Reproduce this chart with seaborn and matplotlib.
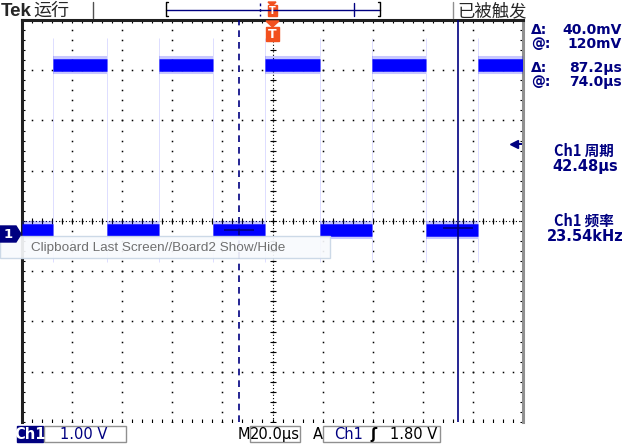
import numpy as np
import pandas as pd
import matplotlib
matplotlib.use("Agg")
import matplotlib.pyplot as plt
import seaborn as sns
from matplotlib.patches import Rectangle, Polygon

# scope settings
time_per_div = 20.0      # us / div
volts_per_div = 1.00     # V / div
trig_level = 1.80        # V
ch1_offset = 0.26        # screen centre is this many volts above ground

# Ch1 square wave: edge times (us, trigger at 0) and levels (V)
rise_us = [-87.6, -45.2, -2.8, 39.6, 82.0]
fall_us = [-66.0, -23.6, 18.8, 61.2, 103.6]
high_v = 3.36
low_v = 0.08

# cursors: dashed / solid
cursor_t = [-13.2, 74.0]
cursor_v = [0.08, 0.12]

cursor_keys = ["Δ:", "@:", "Δ:", "@:"]
cursor_vals = ["40.0mV", "120mV", "87.2µs", "74.0µs"]
meas_labels = ["Ch1 周期", "Ch1 频率"]
meas_values = ["42.48µs", "23.54kHz"]

NAVY = "#000080"
BLUE = "#0000ff"
ORANGE = "#f2501e"
CJK = ["Noto Sans CJK SC", "DejaVu Sans"]

sns.set_style("white")
plt.rcParams["font.family"] = ["DejaVu Sans", "Noto Sans CJK SC"]

W, H = 624, 444
fig = plt.figure(figsize=(W / 100, H / 100), dpi=100)
fig.patch.set_facecolor("white")

gl, gr, gt, gb = 22, 523, 20, 422
ax = fig.add_axes([gl / W, 1 - gb / H, (gr - gl) / W, (gb - gt) / H])
xmin, xmax = -5 * time_per_div, 5 * time_per_div
ymin, ymax = ch1_offset - 4 * volts_per_div, ch1_offset + 4 * volts_per_div
ax.set_xlim(xmin, xmax)
ax.set_ylim(ymin, ymax)
ax.set_xticks([])
ax.set_yticks([])
ax.set_facecolor("white")
for s in ["left", "top"]:
    ax.spines[s].set_color("#202020")
    ax.spines[s].set_linewidth(2.2)
ax.spines["right"].set_color("#909090")
ax.spines["right"].set_linewidth(2.2)
ax.spines["bottom"].set_visible(False)

# graticule
xc = np.arange(xmin, xmax + 0.01, time_per_div)
yc = np.arange(ymin, ymax + 0.01, volts_per_div)
fx = np.arange(xmin, xmax + 0.01, time_per_div / 5)
fy = np.arange(ymin, ymax + 0.01, volts_per_div / 5)
X1, Y1 = np.meshgrid(xc[1:-1], fy)
X2, Y2 = np.meshgrid(fx, yc[1:])
ax.plot(np.r_[X1.ravel(), X2.ravel()], np.r_[Y1.ravel(), Y2.ravel()], "s",
        ms=1.1, mew=0, color="black", zorder=1)
ax.plot([xmin, xmax], [ch1_offset, ch1_offset], ls=(0, (1, 2)), lw=0.8, color="black", zorder=1)
ax.plot([0, 0], [ymin, ymax], ls=(0, (1, 2)), lw=0.8, color="black", zorder=1)
ax.plot(fx, np.full_like(fx, ch1_offset), "|", ms=5, mew=0.8, color="black", zorder=1)
ax.plot(np.zeros_like(fy), fy, "_", ms=5, mew=0.8, color="black", zorder=1)
for yy in [ymin, ymax]:
    ax.plot(fx, np.full_like(fx, yy), "|", ms=5, mew=0.8, color="black", zorder=1)
for xx in [xmin, xmax]:
    ax.plot(np.full_like(fy, xx), fy, "_", ms=5, mew=0.8, color="black", zorder=1)

# trace
rows = []
seg = 0
for a, b in zip([xmin] + fall_us[:-1], rise_us):
    rows += [(a, low_v, seg), (b, low_v, seg)]
    seg += 1
for a, b in zip(rise_us, fall_us):
    rows += [(a, high_v, seg), (min(b, xmax), high_v, seg)]
    seg += 1
df = pd.DataFrame(rows, columns=["t", "v", "seg"])

ax.vlines(rise_us + fall_us, -0.55, 3.9, color="#d8d8ff", lw=0.6, zorder=2)
sns.lineplot(data=df, x="t", y="v", units="seg", estimator=None, color=BLUE,
             lw=13, alpha=0.22, solid_capstyle="butt", legend=False, ax=ax, zorder=3)
sns.lineplot(data=df, x="t", y="v", units="seg", estimator=None, color=BLUE,
             lw=9, solid_capstyle="butt", legend=False, ax=ax, zorder=4)
ax.set_xlabel("")
ax.set_ylabel("")

# cursors
ax.axvline(cursor_t[0], color=NAVY, lw=1.2, ls=(0, (4, 3)), zorder=5)
ax.axvline(cursor_t[1], color=NAVY, lw=1.2, zorder=5)
for t, v in zip(cursor_t, cursor_v):
    ax.hlines(v, t - 6, t + 6, color=NAVY, lw=1.2, zorder=5)

# trigger level arrow
ax.plot([xmax - 3.6], [trig_level], "<", ms=6, color=NAVY, zorder=6)
ax.hlines(trig_level, xmax - 3.6, xmax - 0.3, color=NAVY, lw=1.4, zorder=6)

# overlay in pixel coordinates for the screen furniture
ov = fig.add_axes([0, 0, 1, 1], zorder=10)
ov.set_xlim(0, W)
ov.set_ylim(H, 0)
ov.axis("off")
ov.patch.set_alpha(0)

# header
ov.text(1, 11, "Tek", fontsize=13.5, fontweight="bold", family="Liberation Sans", va="center")
ov.text(33, 11, "运行", fontsize=13, family=CJK, va="center")
ov.plot([93, 93], [2, 18], color="#505050", lw=1)
ov.plot([453, 453], [2, 18], color="#909090", lw=1)
ov.text(457, 11, "已被触发", fontsize=12.5, family=CJK, va="center")
ov.plot([166, 380], [10, 10], color=NAVY, lw=1)
ov.plot([168, 166, 166, 168], [2, 2, 16, 16], color="black", lw=1)
ov.plot([378, 380, 380, 378], [2, 2, 16, 16], color="black", lw=1)
ov.plot([260, 260], [3, 16], color=NAVY, lw=1, ls=(0, (2, 2)))
ov.plot([354, 354], [3, 16], color=NAVY, lw=1)
ov.add_patch(Polygon([[268, 2], [276, 2], [272, 6]], color=ORANGE))
ov.add_patch(Rectangle((267.5, 5.5), 9, 11, color=ORANGE))
ov.text(272, 11.5, "T", color="white", fontsize=7, fontweight="bold", ha="center", va="center")

# trigger marker below top border
ov.add_patch(Polygon([[266, 21], [279, 21], [272.5, 27]], color=ORANGE))
ov.add_patch(Rectangle((266, 27), 13, 14, color=ORANGE))
ov.text(272.5, 34, "T", color="white", fontsize=9, fontweight="bold", ha="center", va="center")

# tooltip
ov.add_patch(Rectangle((0, 236), 330, 22, facecolor="#f8fafd", edgecolor="#c8d6e6", lw=1, alpha=0.92))
ov.text(31, 247.5, "Clipboard Last Screen//Board2 Show/Hide", color="#707070",
        fontsize=9.7, family="Liberation Sans", va="center")

# Ch1 ground marker
ov.add_patch(Polygon([[0, 226], [16, 226], [21, 234], [16, 242], [0, 242]], color=NAVY))
ov.text(8, 234, "1", color="white", fontsize=9.5, fontweight="bold", ha="center", va="center")

# right-hand readouts
for k, val, yy in zip(cursor_keys, cursor_vals, [30, 44, 68, 82]):
    ov.text(531, yy, k, color=NAVY, fontsize=10, fontweight="bold", va="center")
    ov.text(622, yy, val, color=NAVY, fontsize=10, fontweight="bold", ha="right", va="center")
for lab, val, yy in zip(meas_labels, meas_values, [151, 221]):
    ov.text(584, yy, lab, color=NAVY, fontsize=10.5, fontweight="bold", ha="center", va="center", family=CJK)
    ov.text(585, yy + 15, val, color=NAVY, fontsize=10.5, fontweight="bold", ha="center", va="center")

# bottom status bar
ov.add_patch(Rectangle((17, 426), 26, 16, color=NAVY))
ov.text(30, 434, "Ch1", color="white", fontsize=10.5, fontweight="bold", ha="center", va="center")
ov.add_patch(Rectangle((44, 426), 82, 16, fill=False, edgecolor="#909090", lw=1))
ov.text(60, 434, "1.00 V", color=NAVY, fontsize=10.5, va="center")
ov.text(238, 434, "M", color="black", fontsize=10.5, va="center")
ov.add_patch(Rectangle((250, 426), 50, 16, fill=False, edgecolor="#909090", lw=1))
ov.text(275, 434, "20.0µs", color="black", fontsize=10.5, ha="center", va="center")
ov.text(313, 434, "A", color="black", fontsize=10.5, va="center")
ov.add_patch(Rectangle((323, 426), 117, 16, fill=False, edgecolor="#909090", lw=1))
ov.text(334, 434, "Ch1", color=NAVY, fontsize=10.5, va="center")
ov.text(370, 434, "ʃ", color="black", fontsize=10.5, fontweight="bold", va="center")
ov.text(437, 434, "1.80 V", color="black", fontsize=10.5, ha="right", va="center")

fig.savefig("out.png", dpi=100)
